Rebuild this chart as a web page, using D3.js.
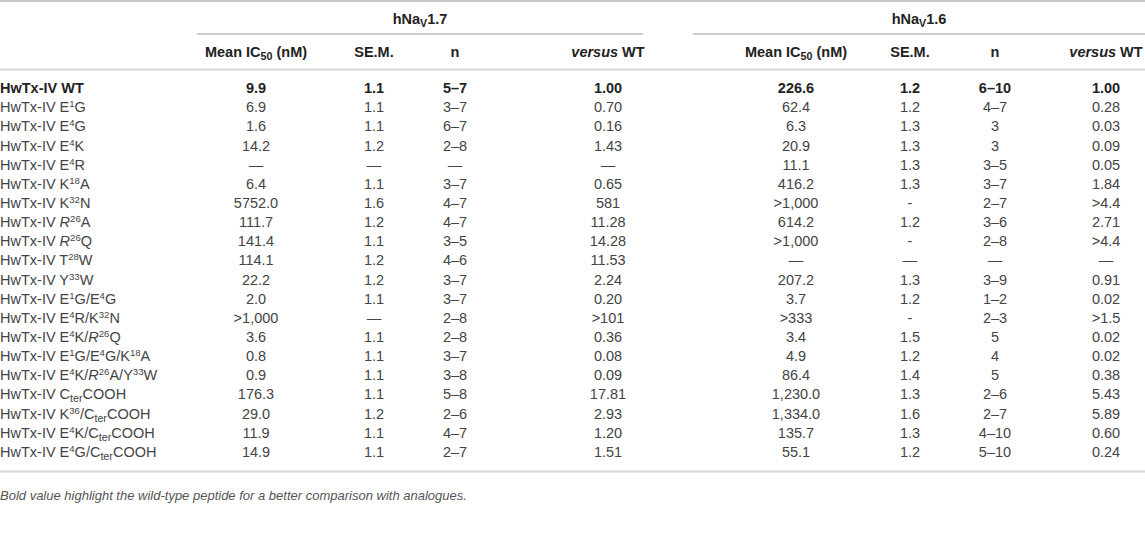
<!DOCTYPE html>
<html>
<head>
<meta charset="utf-8">
<script src="https://cdn.jsdelivr.net/npm/d3@7"></script>
<style>
  body { margin: 0; background: #fff; }
  text { font-family: "Liberation Sans", Arial, sans-serif; }
</style>
</head>
<body>
<svg id="table" width="1145" height="541"></svg>
<script>
// row labels: ^{..} superscript, _{..} subscript, *..* italic
const labels = [
  'HwTx-IV WT',
  'HwTx-IV E^{1}G',
  'HwTx-IV E^{4}G',
  'HwTx-IV E^{4}K',
  'HwTx-IV E^{4}R',
  'HwTx-IV K^{18}A',
  'HwTx-IV K^{32}N',
  'HwTx-IV *R*^{26}A',
  'HwTx-IV *R*^{26}Q',
  'HwTx-IV T^{28}W',
  'HwTx-IV Y^{33}W',
  'HwTx-IV E^{1}G/E^{4}G',
  'HwTx-IV E^{4}R/K^{32}N',
  'HwTx-IV E^{4}K/*R*^{26}Q',
  'HwTx-IV E^{1}G/E^{4}G/K^{18}A',
  'HwTx-IV E^{4}K/*R*^{26}A/Y^{33}W',
  'HwTx-IV C_{ter}COOH',
  'HwTx-IV K^{36}/C_{ter}COOH',
  'HwTx-IV E^{4}K/C_{ter}COOH',
  'HwTx-IV E^{4}G/C_{ter}COOH'
];

const nav17Mean = ['9.9', '6.9', '1.6', '14.2', '—', '6.4', '5752.0', '111.7', '141.4', '114.1',
  '22.2', '2.0', '>1,000', '3.6', '0.8', '0.9', '176.3', '29.0', '11.9', '14.9'];
const nav17Sem = ['1.1', '1.1', '1.1', '1.2', '—', '1.1', '1.6', '1.2', '1.1', '1.2',
  '1.2', '1.1', '—', '1.1', '1.1', '1.1', '1.1', '1.2', '1.1', '1.1'];
const nav17N = ['5–7', '3–7', '6–7', '2–8', '—', '3–7', '4–7', '4–7', '3–5', '4–6',
  '3–7', '3–7', '2–8', '2–8', '3–7', '3–8', '5–8', '2–6', '4–7', '2–7'];
const nav17Vs = ['1.00', '0.70', '0.16', '1.43', '—', '0.65', '581', '11.28', '14.28', '11.53',
  '2.24', '0.20', '>101', '0.36', '0.08', '0.09', '17.81', '2.93', '1.20', '1.51'];

const nav16Mean = ['226.6', '62.4', '6.3', '20.9', '11.1', '416.2', '>1,000', '614.2', '>1,000', '—',
  '207.2', '3.7', '>333', '3.4', '4.9', '86.4', '1,230.0', '1,334.0', '135.7', '55.1'];
const nav16Sem = ['1.2', '1.2', '1.3', '1.3', '1.3', '1.3', '-', '1.2', '-', '—',
  '1.3', '1.2', '-', '1.5', '1.2', '1.4', '1.3', '1.6', '1.3', '1.2'];
const nav16N = ['6–10', '4–7', '3', '3', '3–5', '3–7', '2–7', '3–6', '2–8', '—',
  '3–9', '1–2', '2–3', '5', '4', '5', '2–6', '2–7', '4–10', '5–10'];
const nav16Vs = ['1.00', '0.28', '0.03', '0.09', '0.05', '1.84', '>4.4', '2.71', '>4.4', '—',
  '0.91', '0.02', '>1.5', '0.02', '0.02', '0.38', '5.43', '5.89', '0.60', '0.24'];

const groups = ['hNa_{V}1.7', 'hNa_{V}1.6'];
const columnHeaders = ['Mean IC_{50} (nM)', 'SE.M.', 'n', '*versus* WT'];
const footnote = 'Bold value highlight the wild-type peptide for a better comparison with analogues.';

const svg = d3.select('#table');
const W = 1145;
const fontSize = 14.5;
const ink = '#444';

const columns = ['m17', 's17', 'n17', 'v17', 'm16', 's16', 'n16', 'v16'];
const columnData = [nav17Mean, nav17Sem, nav17N, nav17Vs, nav16Mean, nav16Sem, nav16N, nav16Vs];
const x = d3.scaleOrdinal().domain(columns).range([256, 374, 455, 608, 796, 910, 995, 1106]);
const groupX = d3.scaleOrdinal().domain(groups).range([[197, 643], [693, W]]);

const y = d3.scaleBand().domain(d3.range(labels.length)).range([78.5, 461.5]);

// write a marked-up string as tspans into a text element
const rich = (sel, str) => {
  const parts = str.split(/(\^\{[^}]*\}|_\{[^}]*\}|\*[^*]*\*)/).filter(p => p.length);
  let shift = 0;
  parts.forEach((p) => {
    let txt = p;
    let dy = -shift;
    let size = null;
    let italic = false;
    if (p.startsWith('^{')) { txt = p.slice(2, -1); dy += -5; shift = -5; size = '66%'; }
    else if (p.startsWith('_{')) { txt = p.slice(2, -1); dy += 3; shift = 3; size = '74%'; }
    else if (p.startsWith('*')) { txt = p.slice(1, -1); italic = true; shift = 0; }
    else { shift = 0; }
    const t = sel.append('tspan').text(txt);
    if (dy) t.attr('dy', dy);
    if (size) t.attr('font-size', size);
    if (italic) t.attr('font-style', 'italic');
  });
};

// rules
const rule = (x1, x2, yy, w, c) => svg.append('line')
  .attr('x1', x1).attr('x2', x2).attr('y1', yy).attr('y2', yy)
  .attr('stroke', c).attr('stroke-width', w);
rule(0, W, 1, 2, '#c8c8c8');
groups.forEach(g => rule(groupX(g)[0], groupX(g)[1], 34, 1, '#9a9a9a'));
rule(0, W, 69.5, 2, '#d8d8d8');
rule(0, W, 471.5, 2, '#d8d8d8');

// group headers
svg.selectAll('text.group').data(groups).enter()
  .append('text').attr('class', 'group')
  .attr('x', g => (groupX(g)[0] + groupX(g)[1]) / 2)
  .attr('y', 24)
  .attr('text-anchor', 'middle')
  .attr('font-size', fontSize).attr('font-weight', 'bold').attr('fill', '#222')
  .each(function (g) { rich(d3.select(this), g); });

// column headers
svg.selectAll('text.col').data(columns).enter()
  .append('text').attr('class', 'col')
  .attr('x', c => x(c))
  .attr('y', 57)
  .attr('text-anchor', 'middle')
  .attr('font-size', fontSize).attr('font-weight', 'bold').attr('fill', '#222')
  .each(function (c, i) { rich(d3.select(this), columnHeaders[i % 4]); });

// row labels
svg.selectAll('text.label').data(labels).enter()
  .append('text').attr('class', 'label')
  .attr('x', 0)
  .attr('y', (d, i) => y(i) + y.bandwidth() / 2 + 5)
  .attr('font-size', fontSize)
  .attr('font-weight', (d, i) => (i === 0 ? 'bold' : 'normal'))
  .attr('fill', (d, i) => (i === 0 ? '#222' : ink))
  .each(function (d) { rich(d3.select(this), d); });

// cells
columns.forEach((c, ci) => {
  svg.selectAll(`text.cell-${c}`).data(columnData[ci]).enter()
    .append('text').attr('class', `cell-${c}`)
    .attr('x', x(c))
    .attr('y', (d, i) => y(i) + y.bandwidth() / 2 + 5)
    .attr('text-anchor', 'middle')
    .attr('font-size', fontSize)
    .attr('font-weight', (d, i) => (i === 0 ? 'bold' : 'normal'))
    .attr('fill', (d, i) => (i === 0 ? '#222' : ink))
    .text(d => d);
});

svg.append('text')
  .attr('x', 0).attr('y', 500)
  .attr('font-size', 13).attr('font-style', 'italic').attr('fill', '#555')
  .text(footnote);
</script>
</body>
</html>
